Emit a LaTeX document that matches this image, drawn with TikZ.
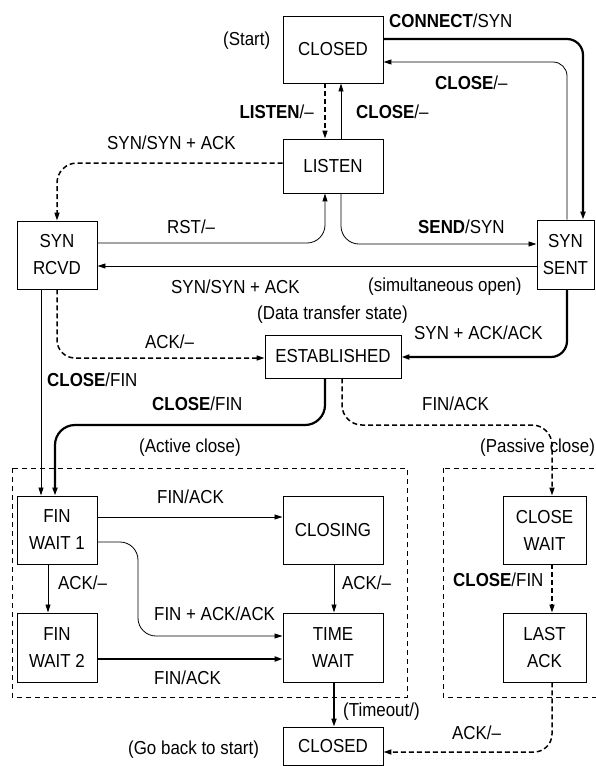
\documentclass[tikz,border=0pt]{standalone}
\usepackage{fontspec}
\setmainfont{Liberation Sans}[FakeStretch=0.9]
\usetikzlibrary{arrows.meta}
\begin{document}
\begin{tikzpicture}[x=1pt,y=-1pt,
  every node/.style={font=\fontsize{18.8}{27}\selectfont},
  stbox/.style={draw, line width=0.9pt, align=center, inner sep=0pt},
  lbl/.style={inner sep=0pt, anchor=west},
  lblr/.style={inner sep=0pt, anchor=east},
  tip/.style={-{Triangle[length=8pt,width=5pt]}},
  thinline/.style={tip, line width=0.8pt},
  thickline/.style={tip, line width=2.2pt},
  dashline/.style={tip, line width=1.5pt, dash pattern=on 5pt off 3pt},
  dashrect/.style={line width=0.8pt, dash pattern=on 5pt off 4pt}]
\useasboundingbox (0,0) rectangle (595,766);
% states
\node[stbox, minimum width=100pt, minimum height=67pt] (closedT) at (333,49.5) {CLOSED};
\node[stbox, minimum width=100pt, minimum height=54pt] (listen) at (333,166) {LISTEN};
\node[stbox, minimum width=80pt, minimum height=68pt] (synrcvd) at (57,255) {SYN\\RCVD};
\node[stbox, minimum width=57pt, minimum height=69pt] (synsent) at (565.5,254.5) {SYN\\SENT};
\node[stbox, minimum width=136pt, minimum height=43pt] (estab) at (333,356.5) {ESTABLISHED};
\node[stbox, minimum width=80pt, minimum height=68pt] (fw1) at (57,530) {FIN\\WAIT 1};
\node[stbox, minimum width=100pt, minimum height=68pt] (closing) at (333,530) {CLOSING};
\node[stbox, minimum width=83pt, minimum height=68pt] (closewait) at (544.5,530) {CLOSE\\WAIT};
\node[stbox, minimum width=80pt, minimum height=69pt] (fw2) at (57,647.5) {FIN\\WAIT 2};
\node[stbox, minimum width=100pt, minimum height=69pt] (timewait) at (333,647.5) {TIME\\WAIT};
\node[stbox, minimum width=83pt, minimum height=69pt] (lastack) at (544.5,647.5) {LAST\\ACK};
\node[stbox, minimum width=100pt, minimum height=38pt] (closedB) at (333,746) {CLOSED};
% dashed groups
\draw[dashrect] (12,468) rectangle (407,697);
\draw[dashrect] (443,468) rectangle (600,697);
% connectors
\draw[thickline, rounded corners=16pt] (closedT.east |- 0,39) -| (synsent.north -| 583,0);
\draw[thinline, rounded corners=14pt] (synsent.north -| 567,0) |- (closedT.east |- 0,62);
\draw[dashline] (closedT.south -| 325,0) -- (listen.north -| 325,0);
\draw[thinline] (listen.north -| 341,0) -- (closedT.south -| 341,0);
\draw[dashline, rounded corners=20pt] (listen.west |- 0,163) -| (synrcvd.north -| 57,0);
\draw[thinline, rounded corners=18pt] (synrcvd.east |- 0,243) -| (listen.south -| 325,0);
\draw[thinline, rounded corners=18pt] (listen.south -| 341,0) |- (synsent.west |- 0,244);
\draw[thinline] (synsent.west |- 0,266) -- (synrcvd.east |- 0,266);
\draw[thickline, rounded corners=16pt] (synsent.south -| 567,0) |- (estab.east |- 0,357);
\draw[dashline, rounded corners=18pt] (synrcvd.south -| 57,0) |- (estab.west |- 0,358);
\draw[thinline] (synrcvd.south -| 41,0) -- (fw1.north -| 41,0);
\draw[thickline, rounded corners=20pt] (estab.south -| 325,0) |- (55,425) -- (fw1.north -| 55,0);
\draw[dashline, rounded corners=20pt] (estab.south -| 342,0) |- (552,425) -- (closewait.north -| 552,0);
\draw[thinline] (fw1.east |- 0,517) -- (closing.west |- 0,517);
\draw[thinline, rounded corners=18pt] (fw1.east |- 0,542) -| (138,636) -- (timewait.west |- 0,636);
\draw[thinline] (fw1.south -| 48,0) -- (fw2.north -| 48,0);
\draw[thickline] (fw2.east |- 0,659) -- (timewait.west |- 0,659);
\draw[thinline] (closing.south -| 334,0) -- (timewait.north -| 334,0);
\draw[dashline] (closewait.south -| 552,0) -- (lastack.north -| 552,0);
\draw[thickline, line width=1.6pt] (timewait.south -| 334,0) -- (closedB.north -| 334,0);
\draw[dashline, rounded corners=18pt] (lastack.south -| 552,0) |- (closedB.east |- 0,752);
% labels
\node[lbl] (l1) at (223,41) {(Start)};
\node[lbl] (l2) at (389,21) {\textbf{CONNECT}/SYN};
\node[lbl] (l3) at (435,83) {\textbf{CLOSE}/–};
\node[lblr] (l4) at (314,112) {\textbf{LISTEN}/–};
\node[lbl] (l5) at (356,112) {\textbf{CLOSE}/–};
\node[lbl] (l6) at (107,143) {SYN/SYN + ACK};
\node[lbl] (l7) at (167,227) {RST/–};
\node[lbl] (l8) at (418,227) {\textbf{SEND}/SYN};
\node[lbl] (l9) at (171,287) {SYN/SYN + ACK};
\node[lbl] (l10) at (368,287) {(simultaneous open)};
\node[lbl] (l11) at (257,315) {(Data transfer state)};
\node[lbl] (l12) at (414,333) {SYN + ACK/ACK};
\node[lbl] (l13) at (145,342) {ACK/–};
\node[lbl] (l14) at (47,380) {\textbf{CLOSE}/FIN};
\node[lbl] (l15) at (152,404) {\textbf{CLOSE}/FIN};
\node[lbl] (l16) at (422,404) {FIN/ACK};
\node[lbl] (l17) at (139,448) {(Active close)};
\node[lbl] (l18) at (480,448) {(Passive close)};
\node[lbl] (l19) at (157,497) {FIN/ACK};
\node[lbl] (l20) at (58,583) {ACK/–};
\node[lbl] (l21) at (342,583) {ACK/–};
\node[lbl] (l22) at (453,580) {\textbf{CLOSE}/FIN};
\node[lbl] (l23) at (154,614) {FIN + ACK/ACK};
\node[lbl] (l24) at (154,678) {FIN/ACK};
\node[lbl] (l25) at (343,712) {(Timeout/)};
\node[lbl] (l26) at (452,733) {ACK/–};
\node[lbl] (l27) at (128,750) {(Go back to start)};
\end{tikzpicture}
\end{document}
